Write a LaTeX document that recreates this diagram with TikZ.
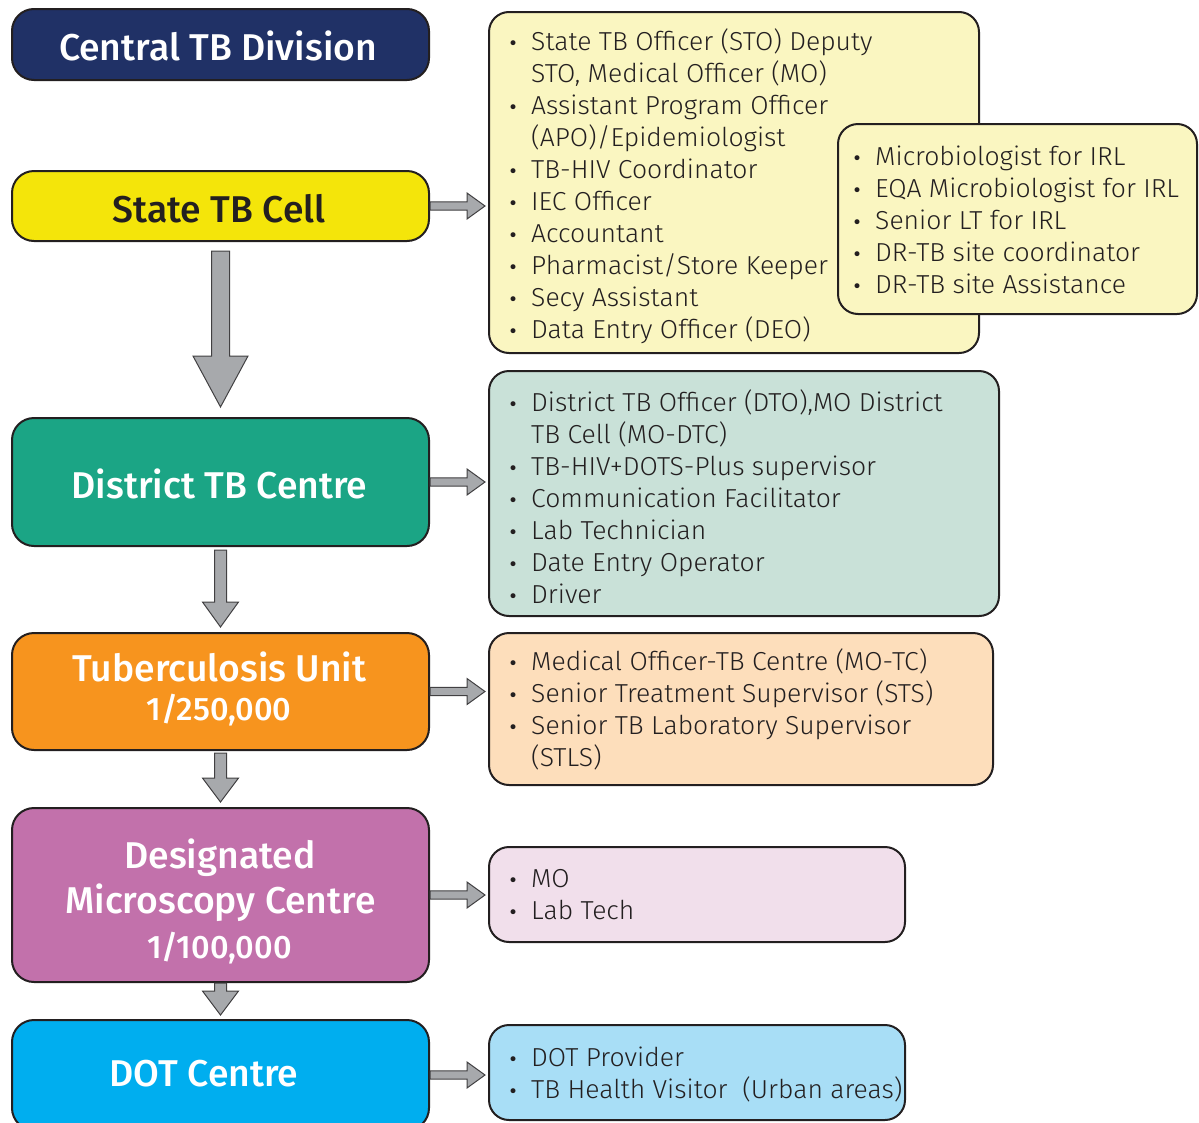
\documentclass[tikz,border=0pt]{standalone}
\usepackage{fontspec}
\setmainfont{Fira Sans}
\newfontfamily\headfont{Fira Sans Medium}
\newfontfamily\itemfont{Fira Sans Light}[FakeStretch=1.02]
\newfontfamily\bulfont{DejaVu Sans}
\usetikzlibrary{calc}
\definecolor{linec}{HTML}{231F20}
\definecolor{navy}{HTML}{203166}
\definecolor{yel}{HTML}{F4E50A}
\definecolor{teal}{HTML}{1BA585}
\definecolor{orng}{HTML}{F7941E}
\definecolor{purp}{HTML}{C271AB}
\definecolor{cyanb}{HTML}{00AEEF}
\definecolor{lyel}{HTML}{FAF6C1}
\definecolor{lteal}{HTML}{C9E1D8}
\definecolor{peach}{HTML}{FDDEBB}
\definecolor{lpink}{HTML}{F1DFEB}
\definecolor{lblue}{HTML}{A8DEF6}
\definecolor{arrfill}{HTML}{A7A9AC}
\definecolor{arrline}{HTML}{414042}
\newcommand{\bl}{\makebox[18pt][l]{\makebox[0pt][c]{\raisebox{1pt}{\bulfont\fontsize{17}{17}\selectfont •}}}}
\newcommand{\varrow}[7]{%
  \draw[barrow] let \p1=(#1.south), \p2=(#2.north) in
  (\x1-#3pt,\y1-#6pt) -- (\x1-#3pt,\y2+#7pt+#5pt) -- (\x1-#4pt,\y2+#7pt+#5pt) -- (\x1,\y2+#7pt)
  -- (\x1+#4pt,\y2+#7pt+#5pt) -- (\x1+#3pt,\y2+#7pt+#5pt) -- (\x1+#3pt,\y1-#6pt) -- cycle;}
\newcommand{\harrow}[2]{%
  \draw[barrow] let \p1=(#1.east), \p2=(#2.west) in
  (\x1,\y1+4.2pt) -- (\x2-21pt,\y1+4.2pt) -- (\x2-21pt,\y1+13pt) -- (\x2-3pt,\y1)
  -- (\x2-21pt,\y1-13pt) -- (\x2-21pt,\y1-4.2pt) -- (\x1,\y1-4.2pt) -- cycle;}
\begin{document}
\begin{tikzpicture}[x=1pt,y=-1pt,
  lbox/.style={draw=linec, line width=2pt, rounded corners=22pt, minimum width=417pt, inner sep=0pt},
  rbox/.style={draw=linec, line width=2pt, rounded corners=20pt, inner sep=0pt},
  htext/.style={font=\headfont\fontsize{37.3}{40}\selectfont, text=white, anchor=base, inner sep=0pt},
  stext/.style={font=\headfont\fontsize{32.5}{36}\selectfont, text=white, anchor=base, inner sep=0pt},
  ltext/.style={font=\itemfont\fontsize{26}{32}\selectfont, text=linec, anchor=base west, inner sep=0pt},
  barrow/.style={fill=arrfill, draw=arrline, line width=1pt, line join=miter}]
\useasboundingbox (0,0) rectangle (1199,1122);
% left column boxes
\node[lbox, fill=navy, minimum height=71pt] (central) at (220.5,44.5) {};
\node[lbox, fill=yel, minimum height=70pt] (state) at (220.5,206) {};
\node[lbox, fill=teal, minimum height=128pt] (district) at (220.5,482) {};
\node[lbox, fill=orng, minimum height=117pt] (tu) at (220.5,691.5) {};
\node[lbox, fill=purp, minimum height=174pt] (dmc) at (220.5,895) {};
\node[lbox, fill=cyanb, minimum height=110pt] (dot) at (220.5,1075) {};
% titles
\node[htext] (tcentral) at (218,60) {Central TB Division};
\node[htext, text=linec] (tstate) at (219,222) {State TB Cell};
\node[htext] (tdistrict) at (219.5,498) {District TB Centre};
\node[htext] (ttu) at (219.5,681.5) {Tuberculosis Unit};
\node[stext] (ttu2) at (219,720) {1/250,000};
\node[htext] (tdmc1) at (220,868) {Designated};
\node[htext] (tdmc2) at (220.5,913) {Microscopy Centre};
\node[stext] (tdmc3) at (219.5,958) {1/100,000};
\node[htext] (tdot) at (204,1086) {DOT Centre};
% right boxes
\node[rbox, fill=lyel, minimum width=490pt, minimum height=341pt] (r1) at (734,182.5) {};
\node[rbox, fill=lyel, minimum width=359pt, minimum height=190pt] (r1b) at (1017.5,219) {};
\node[rbox, fill=lteal, minimum width=510pt, minimum height=245pt] (r2) at (744,493.5) {};
\node[rbox, fill=peach, minimum width=504pt, minimum height=152pt] (r3) at (741,709) {};
\node[rbox, fill=lpink, minimum width=416pt, minimum height=95pt] (r4) at (697,894.5) {};
\node[rbox, fill=lblue, minimum width=416pt, minimum height=95pt] (r5) at (697,1072.5) {};
% lists
\node[ltext] (l1) at (513,50) {\begin{tabular}[t]{@{}l@{}l@{}}
\bl & State TB Officer (STO) Deputy\\
 & STO, Medical Officer (MO)\\
\bl & Assistant Program Officer\\
 & (APO)/Epidemiologist\\
\bl & TB-HIV Coordinator\\
\bl & IEC Officer\\
\bl & Accountant\\
\bl & Pharmacist/Store Keeper\\
\bl & Secy Assistant\\
\bl & Data Entry Officer (DEO)
\end{tabular}};
\node[ltext] (l1b) at (857,165) {\begin{tabular}[t]{@{}l@{}l@{}}
\bl & Microbiologist for IRL\\
\bl & EQA Microbiologist for IRL\\
\bl & Senior LT for IRL\\
\bl & DR-TB site coordinator\\
\bl & DR-TB site Assistance
\end{tabular}};
\node[ltext] (l2) at (513,411) {\begin{tabular}[t]{@{}l@{}l@{}}
\bl & District TB Officer (DTO),MO District\\
 & TB Cell (MO-DTC)\\
\bl & TB-HIV+DOTS-Plus supervisor\\
\bl & Communication Facilitator\\
\bl & Lab Technician\\
\bl & Date Entry Operator\\
\bl & Driver
\end{tabular}};
\node[ltext] (l3) at (513,670) {\begin{tabular}[t]{@{}l@{}l@{}}
\bl & Medical Officer-TB Centre (MO-TC)\\
\bl & Senior Treatment Supervisor (STS)\\
\bl & Senior TB Laboratory Supervisor\\
 & (STLS)
\end{tabular}};
\node[ltext] (l4) at (513,887) {\begin{tabular}[t]{@{}l@{}l@{}}
\bl & MO\\
\bl & Lab Tech
\end{tabular}};
\node[ltext] (l5) at (513,1066) {\begin{tabular}[t]{@{}l@{}l@{}}
\bl & DOT Provider\\
\bl & TB Health Visitor\ \ (Urban areas)
\end{tabular}};
% arrows
\varrow{state}{district}{9}{27.5}{51}{9}{10}
\varrow{district}{tu}{6}{18}{25}{3}{5}
\varrow{tu}{dmc}{6}{18}{24}{2}{5}
\varrow{dmc}{dot}{6}{18}{24}{0}{4}
\harrow{state}{r1}
\harrow{district}{r2}
\harrow{tu}{r3}
\harrow{dmc}{r4}
\harrow{dot}{r5}
\end{tikzpicture}
\end{document}
